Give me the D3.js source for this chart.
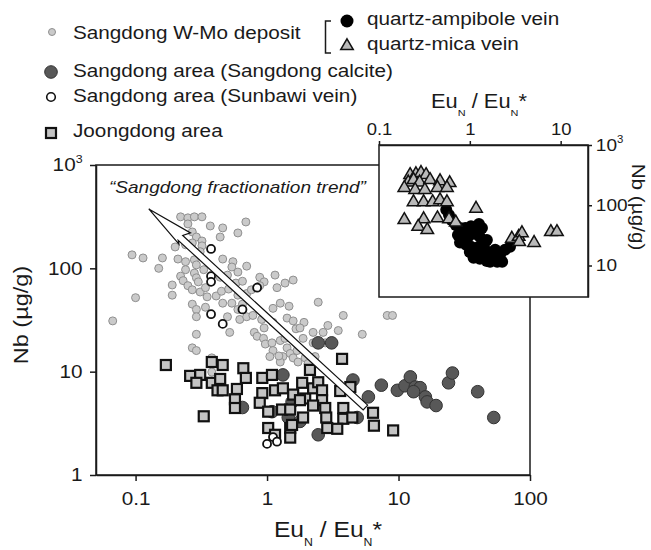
<!DOCTYPE html>
<html>
<head>
<meta charset="utf-8">
<script src="https://cdn.jsdelivr.net/npm/d3@7"></script>
<style>
body { margin: 0; background: #fff; }
svg { display: block; }
text { font-family: Arial, "Liberation Sans", sans-serif; fill: #1a1a1a; white-space: pre; }
</style>
</head>
<body>
<script>
// [EuN/EuN*, Nb (ug/g)]
const wmoDeposit = [
    [0.22,315],[0.25,308],[0.28,315],[0.32,315],[0.25,269],[0.37,257],[0.46,246],[0.69,281],[0.60,220],
    [0.27,225],[0.29,201],[0.32,184],[0.24,169],[0.27,176],[0.32,165],[0.20,161],[0.44,201],
    [0.31,145],[0.094,135],[0.114,126],[0.16,126],[0.21,123],[0.24,116],[0.28,121],[0.15,100],[0.24,97],
    [0.29,108],[0.46,123],[0.55,116],[0.54,103],[0.70,105],[0.60,92],[0.28,90],[0.33,97],[0.22,84],
    [0.23,76],[0.29,81],[0.30,74],[0.25,68],[0.19,69],[0.19,55],[0.10,52],[0.44,82],[0.50,86],[0.58,72],
    [0.65,75],[0.88,82],[0.95,74],[1.15,86],[1.19,65],[1.37,72],[1.58,77],[0.88,68],[0.27,62],[0.31,59],
    [0.34,65],[0.35,53],[0.41,54],[0.45,60],[0.51,63],[0.60,55],[0.70,57],[0.76,62],
    [0.27,45],[0.29,40],[0.34,42],[0.46,46],[0.54,46],[0.60,40],[0.65,45],[0.62,32],[0.52,24],[0.29,23],
    [0.29,34],[0.50,34],[0.70,34],[0.78,35],[0.91,32],[0.95,26.5],[0.80,24],[1.11,30],[1.11,41],[1.26,46],
    [1.47,43],[1.42,33],[1.58,31],[1.66,26],[1.91,30],[2.45,47],[3.8,35],[2.67,24],[2.9,28],[5.3,23],
    [0.067,31],[8.2,35],[9.0,35],[2.24,24],[3.48,25],
    [0.27,17],[0.29,16],[0.38,13.6],[0.38,9.9],[0.84,22],[0.94,21],[0.97,18.5],[1.09,19],[1.11,16],
    [1.05,14],[1.26,20],[1.42,17],[1.5,15],[1.69,16],[1.58,13.6],[1.72,12.4],[1.95,13.6],[1.32,14],
    [1.26,12.4],[1.78,26.5],[2.24,19],[2.77,19],[1.88,21],[2.05,12],[2.32,14],[1.23,14.2],[1.37,21]
];
const sangdongCalcite = [
    [2.45,19],[3.1,19],[1.32,9.3],[1.55,5.1],[1.45,3.6],[1.09,4.1],[1.78,3.3],[2.45,2.45],[0.65,4.5],
    [4.5,8.3],[5.9,5.7],[4.85,3.6],[7.4,7.4],[9.8,6.6],[11.2,7.3],[12.3,8.9],[13.4,7.1],[14.6,7.0],
    [13,6.4],[16,5.7],[16.5,5.1],[19.3,4.7],[24,7.8],[25.7,9.7],[40,6.4],[53,3.6]
];
const sunbawiVein = [
    [0.375,154],[0.375,84],[0.375,74],[0.84,65],[0.65,40],[0.375,36],[0.46,29],[1.0,2.0],[1.11,2.33],[1.19,2.1]
];
const joongdong = [
    [0.17,11.6],[0.26,9.1],[0.31,9.3],[0.29,7.8],[0.38,12.4],[0.46,11.6],[0.38,7.8],[0.42,6.6],[0.46,6.6],
    [0.44,8.5],[0.66,10.8],[0.69,8.7],[0.59,6.8],[0.57,5.4],[0.57,4.45],[0.33,3.7],[0.92,8.7],[1.09,9.3],
    [0.92,6.2],[0.88,5.0],[1.02,4.1],[1.15,6.6],[1.32,6.9],[1.3,4.3],[1.58,6.0],[1.5,4.3],[1.85,7.8],
    [1.95,5.5],[1.88,3.6],[1.02,2.85],[1.15,2.45],[1.5,2.85],[1.5,2.3],[2.12,10.4],[2.24,6.9],[2.45,7.9],
    [2.62,6.6],[2.62,5.3],[2.24,4.7],[2.77,4.45],[2.82,3.6],[2.87,2.85],[3.72,13.3],[3.6,6.5],[3.8,4.45],
    [3.8,3.5],[4.3,7.1],[4.45,3.6],[3.42,2.8],[6.4,4.0],[6.5,3.0],[9.1,2.7],[1.55,3.05],[1.78,5.3]
];
// inset: Sangdong W-Mo deposit split by vein type
const qtzAmphibole = [
    [0.55,84],[0.59,69],[0.63,57],[0.70,47],[0.78,42],[0.89,42],[1.03,45],[1.26,49],[1.36,42],[0.74,32],
    [0.82,28],[0.96,30],[1.14,33.5],[1.29,30],[0.78,24],[0.91,22],[1.03,20.5],[1.26,20.5],[1.43,22],
    [1.54,26.6],[1.0,16.8],[1.2,16.2],[1.36,15],[1.6,16.8],[1.1,13.4],[1.29,12.9],[1.54,11.9],[1.77,13.4],
    [2.0,11.5],[2.27,11.5],[2.15,15],[2.44,18.2],[2.77,20.5],[1.9,18.2],[1.67,11.5]
];
const qtzMica = [
    [0.22,318],[0.255,330],[0.29,345],[0.33,318],[0.21,240],[0.24,263],[0.28,240],[0.365,263],[0.47,252],
    [0.6,234],[0.19,195],[0.25,180],[0.32,180],[0.44,195],[0.56,195],[0.24,113],[0.31,113],[0.39,113],
    [0.47,122],[0.56,113],[0.19,57],[0.31,59],[0.44,61],[0.59,59],[0.70,52],[0.27,44],[0.34,39],
    [1.17,88],[2.9,28],[3.45,30],[3.75,34.5],[3.5,24.6],[5.1,23.8],[7.8,36],[9.1,36]
];
const trendArrow = [[5.6, 4.5], [0.126, 376]];   // tail, tip
const mainXTicks = [0.1, 1, 10, 100];
const mainYTicks = [1, 10, 100, 1000];
const insetXTicks = [0.1, 1, 10];
const insetYTicks = [10, 100, 1000];

const SX = 1.12; // text in the figure is a bit wider than Arial

const svg = d3.select("body").append("svg")
    .attr("width", 651)
    .attr("height", 550);

const x = d3.scaleLog().domain([0.05, 100]).range([96, 530]);
const y = d3.scaleLog().domain([1, 1000]).range([475, 165]);
const xi = d3.scaleLog().domain([0.1, 20]).range([379, 588]);
const yi = d3.scaleLog().domain([3, 1000]).range([297, 145]);

function addText(g, px, py, str, size, anchor) {
    return g.append("text")
        .attr("transform", `translate(${px},${py}) scale(${SX},1)`)
        .attr("font-size", size)
        .attr("text-anchor", anchor || "start")
        .text(str);
}

function euLabel(g, px, py, size) {
    const t = g.append("text")
        .attr("transform", `translate(${px},${py}) scale(${SX},1)`)
        .attr("font-size", size)
        .attr("text-anchor", "middle");
    const sub = size * 0.5, shift = size * 0.4;
    t.append("tspan").text("Eu");
    t.append("tspan").attr("font-size", sub).attr("dy", shift).text("N");
    t.append("tspan").attr("dy", -shift).text(" / Eu");
    t.append("tspan").attr("font-size", sub).attr("dy", shift).text("N");
    t.append("tspan").attr("dy", -shift).text("*");
}

function powFormat(sel, size) {
    sel.each(function(d) {
        const t = d3.select(this);
        if (d === 1000) {
            t.text("10");
            t.append("tspan").attr("font-size", size * 0.6).attr("dy", -size * 0.45).text("3");
        } else {
            t.text(d3.format("~g")(d));
        }
    });
}

function styleAxis(g, size) {
    g.selectAll("path, line").attr("stroke", "#1a1a1a").attr("stroke-width", 1.5);
    g.selectAll("text")
        .attr("font-size", size)
        .attr("font-family", "Arial, 'Liberation Sans', sans-serif")
        .attr("fill", "#1a1a1a")
        .attr("transform", `scale(${SX},1)`)
        .call(powFormat, size);
}

// ---- main plot ----
svg.append("rect")
    .attr("x", 96).attr("y", 165).attr("width", 434).attr("height", 310)
    .attr("fill", "none").attr("stroke", "#1a1a1a").attr("stroke-width", 1.5);

svg.append("g")
    .attr("transform", "translate(0,475)")
    .call(d3.axisBottom(x).tickValues(mainXTicks).tickSize(6).tickSizeOuter(0).tickPadding(11))
    .call(styleAxis, 18.5);

svg.append("g")
    .attr("transform", "translate(96,0)")
    .call(d3.axisLeft(y).tickValues(mainYTicks).tickSize(6).tickSizeOuter(0).tickPadding(6))
    .call(styleAxis, 18.5);

euLabel(svg, 328, 537, 22);

svg.append("text")
    .attr("transform", `translate(28,315) rotate(-90) scale(${SX},1)`)
    .attr("font-size", 21)
    .attr("text-anchor", "middle")
    .text("Nb (µg/g)");

const pts = svg.append("g");

pts.selectAll(".wmo").data(wmoDeposit).enter().append("circle")
    .attr("cx", d => x(d[0])).attr("cy", d => y(d[1])).attr("r", 4)
    .attr("fill", "#cacaca").attr("stroke", "#8f8f8f").attr("stroke-width", 1);

pts.selectAll(".calc").data(sangdongCalcite).enter().append("circle")
    .attr("cx", d => x(d[0])).attr("cy", d => y(d[1])).attr("r", 6.3)
    .attr("fill", "#585858").attr("stroke", "#333").attr("stroke-width", 1);

pts.selectAll(".joong").data(joongdong).enter().append("rect")
    .attr("x", d => x(d[0]) - 5).attr("y", d => y(d[1]) - 5)
    .attr("width", 10).attr("height", 10)
    .attr("fill", "#c4c4c4").attr("stroke", "#111").attr("stroke-width", 2.2);

pts.selectAll(".sun").data(sunbawiVein).enter().append("circle")
    .attr("cx", d => x(d[0])).attr("cy", d => y(d[1])).attr("r", 4)
    .attr("fill", "#fff").attr("stroke", "#111").attr("stroke-width", 1.8);

// fractionation trend arrow
const p0 = [x(trendArrow[0][0]), y(trendArrow[0][1])];
const p1 = [x(trendArrow[1][0]), y(trendArrow[1][1])];
const len = Math.hypot(p1[0] - p0[0], p1[1] - p0[1]);
const u = [(p1[0] - p0[0]) / len, (p1[1] - p0[1]) / len];
const n = [-u[1], u[0]];
const at = (base, back, side) => [base[0] - u[0] * back + n[0] * side, base[1] - u[1] * back + n[1] * side];
const hw = 3.3;
const arrowPts = [
    at(p0, 0, hw), at(p1, 43, hw), at(p1, 47, 10.5), p1,
    at(p1, 46, -5.5), at(p1, 43, -hw), at(p0, 0, -hw)
];
svg.append("path")
    .attr("d", d3.line()(arrowPts) + "Z")
    .attr("fill", "#fff").attr("stroke", "#111").attr("stroke-width", 1.2)
    .attr("stroke-linejoin", "miter");

svg.append("text")
    .attr("transform", `translate(109,193) scale(${SX},1)`)
    .attr("font-size", 17)
    .attr("font-style", "italic")
    .text("\u201CSangdong fractionation trend\u201D");

// ---- inset ----
const inset = svg.append("g");
inset.append("rect")
    .attr("x", 379).attr("y", 145).attr("width", 209).attr("height", 152)
    .attr("fill", "#fff").attr("stroke", "#1a1a1a").attr("stroke-width", 1.5);

inset.selectAll(".amph").data(qtzAmphibole).enter().append("circle")
    .attr("cx", d => xi(d[0])).attr("cy", d => yi(d[1])).attr("r", 6)
    .attr("fill", "#000");

const tri = d3.symbol().type(d3.symbolTriangle).size(68);
inset.selectAll(".mica").data(qtzMica).enter().append("path")
    .attr("d", tri)
    .attr("transform", d => `translate(${xi(d[0])},${yi(d[1])})`)
    .attr("fill", "#b9b9b9").attr("stroke", "#111").attr("stroke-width", 1.5);

inset.append("g")
    .attr("transform", "translate(0,145)")
    .call(d3.axisTop(xi).tickValues(insetXTicks).tickSize(4).tickSizeOuter(0).tickPadding(6))
    .call(styleAxis, 16.5);

inset.append("g")
    .attr("transform", "translate(588,0)")
    .call(d3.axisRight(yi).tickValues(insetYTicks).tickSize(4).tickSizeOuter(0).tickPadding(3))
    .call(styleAxis, 17);

euLabel(inset, 479, 108, 19.5);

inset.append("text")
    .attr("transform", `translate(632,207) rotate(90) scale(${SX},1)`)
    .attr("font-size", 18.5)
    .attr("text-anchor", "middle")
    .text("Nb (µg/g)");

// ---- legend ----
const leg = svg.append("g");
leg.append("circle").attr("cx", 52).attr("cy", 32).attr("r", 3.5)
    .attr("fill", "#cacaca").attr("stroke", "#8f8f8f");
addText(leg, 73, 38.5, "Sangdong W-Mo deposit", 18.5);

leg.append("path").attr("d", "M331,21H325.5V53H331")
    .attr("fill", "none").attr("stroke", "#1a1a1a").attr("stroke-width", 1.5);
leg.append("circle").attr("cx", 347).attr("cy", 21).attr("r", 6.5).attr("fill", "#000");
addText(leg, 367, 25, "quartz-ampibole vein", 18.5);
leg.append("path").attr("d", tri).attr("transform", "translate(347,46)")
    .attr("fill", "#b9b9b9").attr("stroke", "#111").attr("stroke-width", 1.5);
addText(leg, 367, 50, "quartz-mica vein", 18.5);

leg.append("circle").attr("cx", 51).attr("cy", 72).attr("r", 6.3)
    .attr("fill", "#585858").attr("stroke", "#333");
addText(leg, 73, 77, "Sangdong area (Sangdong calcite)", 18.5);

leg.append("circle").attr("cx", 51).attr("cy", 97).attr("r", 4.3)
    .attr("fill", "#fff").attr("stroke", "#111").attr("stroke-width", 1.6);
addText(leg, 73, 102, "Sangdong area (Sunbawi vein)", 18.5);

leg.append("rect").attr("x", 46).attr("y", 128).attr("width", 10).attr("height", 10)
    .attr("fill", "#c4c4c4").attr("stroke", "#111").attr("stroke-width", 2.2);
addText(leg, 73, 137, "Joongdong area", 18.5);
</script>
</body>
</html>
